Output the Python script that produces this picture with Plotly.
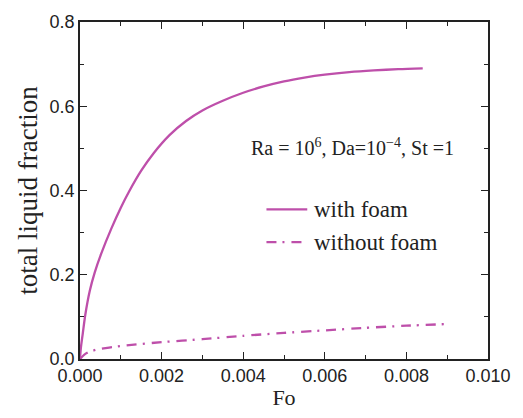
import plotly.graph_objects as go

# Total liquid fraction versus Fourier number
fo_foam = [0, 0.00002, 0.00007, 0.00013, 0.00024, 0.00036, 0.00052, 0.00077, 0.001,
           0.0012, 0.0015, 0.0018, 0.0022, 0.0026, 0.003, 0.0035, 0.004, 0.0045,
           0.005, 0.0055, 0.006, 0.0066, 0.0072, 0.0078, 0.0084]
lf_foam = [0, 0.025, 0.062, 0.105, 0.162, 0.205, 0.25, 0.31, 0.359,
           0.397, 0.447, 0.488, 0.532, 0.565, 0.590, 0.613, 0.632, 0.647,
           0.659, 0.668, 0.675, 0.681, 0.685, 0.688, 0.690]

fo_nofoam = [0, 0.0001, 0.0002, 0.0004, 0.001, 0.002, 0.003, 0.004, 0.005,
             0.006, 0.007, 0.008, 0.009]
lf_nofoam = [0, 0.010, 0.016, 0.022, 0.031, 0.040, 0.047, 0.055, 0.062,
             0.068, 0.074, 0.079, 0.083]

series_names = ["with foam", "without foam"]

color = "#BE4FAA"
dashdot = "10px,6px,2px,7px"
serif = "Liberation Serif"
sans = "Liberation Sans"
ink = "#222222"

fig = go.Figure()
fig.add_trace(go.Scatter(x=fo_foam, y=lf_foam, mode="lines", name=series_names[0],
                         line=dict(color=color, width=2.3, shape="spline",
                                   smoothing=0.8),
                         showlegend=False))
fig.add_trace(go.Scatter(x=fo_nofoam, y=lf_nofoam, mode="lines", name=series_names[1],
                         line=dict(color=color, width=2.3, dash=dashdot,
                                   shape="spline", smoothing=0.6),
                         showlegend=False))

axis_common = dict(showgrid=False, zeroline=False, showline=True, linecolor=ink,
                   linewidth=1.6, ticks="inside", ticklen=7, tickwidth=1.3,
                   tickcolor=ink, mirror="allticks",
                   tickfont=dict(family=sans, size=18, color=ink))

fig.update_xaxes(range=[0, 0.010], dtick=0.002, tickformat=".3f",
                 minor=dict(dtick=0.001, ticks="inside", ticklen=4, tickwidth=1.2,
                            tickcolor=ink),
                 title=dict(text="Fo", font=dict(family=serif, size=22, color=ink),
                            standoff=4),
                 **axis_common)
fig.update_yaxes(range=[0, 0.8], dtick=0.2, tickformat=".1f",
                 minor=dict(dtick=0.1, ticks="inside", ticklen=4, tickwidth=1.2,
                            tickcolor=ink),
                 title=dict(text="total liquid fraction",
                            font=dict(family=serif, size=27, color=ink), standoff=4),
                 **axis_common)

fig.add_annotation(xref="paper", yref="paper", x=0.415, y=0.63, xanchor="left",
                   yanchor="middle", showarrow=False,
                   text="Ra = 10<sup>6</sup>, Da=10<sup>\u22124</sup>, St =1",
                   font=dict(family=serif, size=20, color=ink))

# Legend: line samples with labels
legend_rows = [(0.444, None), (0.347, dashdot)]
for name, (ly, dash) in zip(series_names, legend_rows):
    fig.add_shape(type="line", xref="paper", yref="paper",
                  x0=0.457, x1=0.557, y0=ly, y1=ly,
                  line=dict(color=color, width=2.3, dash=dash or "solid"))
    fig.add_annotation(xref="paper", yref="paper", x=0.568, y=ly, xanchor="left",
                       yanchor="middle", showarrow=False, text=name,
                       font=dict(family=serif, size=23, color=ink))

fig.update_layout(
    width=523, height=418,
    margin=dict(l=80, r=34, t=14, b=55),
    paper_bgcolor="white", plot_bgcolor="white",
    showlegend=False,
)

fig.write_html("out.html")
